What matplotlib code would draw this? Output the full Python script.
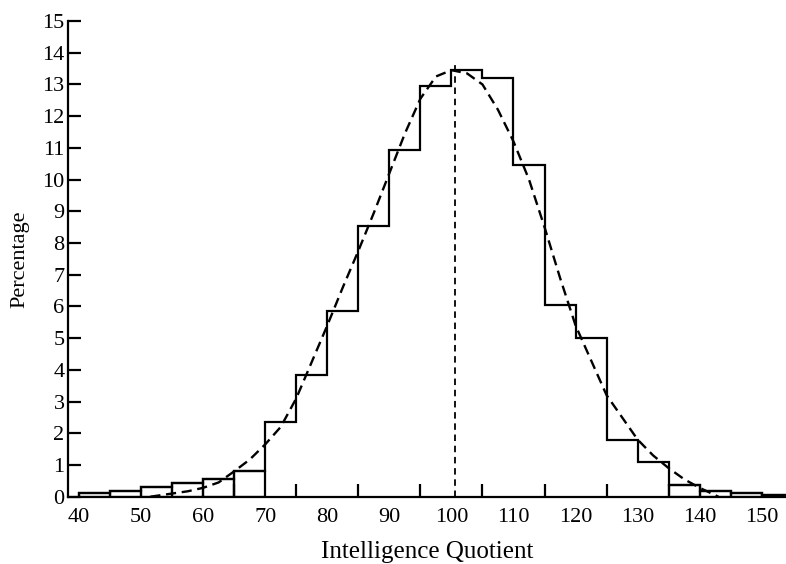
import numpy as np
import matplotlib
matplotlib.use("Agg")
import matplotlib.pyplot as plt

# Histogram: bin left edges (width 5) and percentages
bin_edges = [40, 45, 50, 55, 60, 65, 70, 75, 80, 85, 90, 95, 100, 105, 110,
             115, 120, 125, 130, 135, 140, 145, 150, 155]
percentages = [0.11, 0.18, 0.30, 0.44, 0.57, 0.82, 2.35, 3.83, 5.87, 8.53,
               10.93, 12.95, 13.45, 13.20, 10.47, 6.05, 5.00, 1.78, 1.10,
               0.36, 0.18, 0.11, 0.06]

# Fitted (dashed) curve
curve_iq = [51.5, 55, 57.5, 60, 62.5, 65, 67.5, 70, 72.5, 75, 77.5, 80, 82.5,
            85, 87.5, 90, 92.5, 95, 97.5, 100, 102.5, 105, 107.5, 110, 112.5,
            115, 117.5, 120, 122.5, 125, 127.5, 130, 132.5, 135, 137.5, 140, 143]
curve_pct = [0.0, 0.10, 0.17, 0.28, 0.45, 0.80, 1.17, 1.65, 2.20, 3.10, 4.25,
             5.40, 6.60, 7.75, 8.95, 10.20, 11.45, 12.55, 13.25, 13.45, 13.35,
             13.00, 12.20, 11.20, 10.00, 8.50, 6.90, 5.40, 4.30, 3.20, 2.50,
             1.80, 1.30, 0.90, 0.55, 0.28, 0.0]

mean_iq = 100.6
mean_line_top = 13.7

x_labels = [40, 50, 60, 70, 80, 90, 100, 110, 120, 130, 140, 150]
x_minor = [65, 70, 75, 80, 85, 90, 95, 100, 105, 110, 115, 120, 125, 130, 135, 140]
y_ticks = list(range(0, 16))

plt.rcParams['font.family'] = ['Liberation Serif', 'DejaVu Serif']

fig = plt.figure(figsize=(7.86, 5.64), dpi=100)
ax = fig.add_axes([68 / 786, 67.3 / 564, 718 / 786, 475.7 / 564])

edges = np.array(bin_edges, dtype=float)
vals = np.array(percentages)

# step outline
ax.stairs(vals, edges, baseline=0, fill=False, color='black', linewidth=1.6)
# tail bins drawn as full rectangles
tail = vals < 1.0
ax.bar(edges[:-1][tail], vals[tail], width=np.diff(edges)[tail], align='edge',
       fill=False, edgecolor='black', linewidth=1.6)

# dashed fitted curve
ax.plot(curve_iq, curve_pct, color='black', linewidth=1.7,
        linestyle=(0, (4.3, 2.4)))
# mean line
ax.plot([mean_iq, mean_iq], [0, mean_line_top], color='black', linewidth=1.3,
        linestyle=(0, (3.6, 2.6)))

ax.set_xlim(38.23, 153.9)
ax.set_ylim(0, 15)

for s in ['top', 'right']:
    ax.spines[s].set_visible(False)
for s in ['left', 'bottom']:
    ax.spines[s].set_linewidth(1.6)

ax.set_xticks(x_labels)
ax.set_xticklabels([str(v) for v in x_labels])
ax.set_xticks(x_minor, minor=True)
ax.set_yticks(y_ticks)
ax.set_yticklabels([str(v) for v in y_ticks])

ax.tick_params(axis='x', which='major', length=0, pad=8, labelsize=16)
ax.tick_params(axis='x', which='minor', direction='in', length=9.4, width=1.6)
ax.tick_params(axis='y', which='major', direction='in', length=9.4, width=1.6,
               pad=2.5, labelsize=16)

ax.set_xlabel('Intelligence Quotient', fontsize=18, labelpad=10)
ax.set_ylabel('Percentage', fontsize=16, labelpad=9)

fig.savefig('out.png', dpi=100)
